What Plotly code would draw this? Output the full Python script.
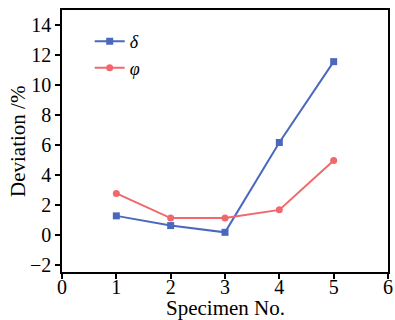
import plotly.graph_objects as go

specimen = [1, 2, 3, 4, 5]
delta = [1.25, 0.6, 0.15, 6.15, 11.55]
phi = [2.75, 1.1, 1.1, 1.65, 4.95]
x_ticks = [0, 1, 2, 3, 4, 5, 6]
y_ticks = [-2, 0, 2, 4, 6, 8, 10, 12, 14]

blue = "#4a68bd"
red = "#f0686c"
font = "Liberation Serif"

fig = go.Figure()
fig.add_trace(go.Scatter(x=specimen, y=delta, mode="lines+markers", name="<i>δ</i>",
                         line=dict(color=blue, width=2),
                         marker=dict(symbol="square", size=7, color=blue)))
fig.add_trace(go.Scatter(x=specimen, y=phi, mode="lines+markers", name="<i>φ</i>",
                         line=dict(color=red, width=2),
                         marker=dict(symbol="circle", size=7, color=red)))

axis_common = dict(showgrid=False, zeroline=False, showline=True, linecolor="black",
                   linewidth=1.5, mirror=True, ticks="outside", ticklen=5,
                   tickwidth=1.5, tickcolor="black", automargin=False,
                   tickfont=dict(family=font, size=20, color="black"))

fig.update_xaxes(range=[0, 6], tickvals=x_ticks, ticklabelstandoff=-9, **axis_common)
fig.update_yaxes(range=[-2.5, 15], tickvals=y_ticks,
                 ticktext=[("−2" if v == -2 else str(v)) for v in y_ticks],
                 **axis_common)

fig.add_annotation(text="Specimen No.", xref="paper", yref="paper", x=0.5, y=-0.137,
                   xanchor="center", yanchor="middle", showarrow=False,
                   font=dict(family=font, size=21, color="black"))
fig.add_annotation(text="Deviation /%", xref="paper", yref="paper", x=-0.135, y=0.5,
                   xanchor="center", yanchor="middle", showarrow=False, textangle=-90,
                   font=dict(family=font, size=21, color="black"))

fig.update_layout(width=395, height=320, margin=dict(l=62, r=7, t=10, b=48),
                  plot_bgcolor="white", paper_bgcolor="white",
                  legend=dict(x=0.085, y=0.95, xanchor="left", yanchor="top",
                              bgcolor="rgba(0,0,0,0)",
                              font=dict(family=font, size=18, color="black"),
                              itemwidth=30, tracegroupgap=0),
                  showlegend=True)

fig.write_html("out.html", config={"displayModeBar": False},
               post_script="document.body.style.margin='0';document.body.style.overflow='hidden';")
